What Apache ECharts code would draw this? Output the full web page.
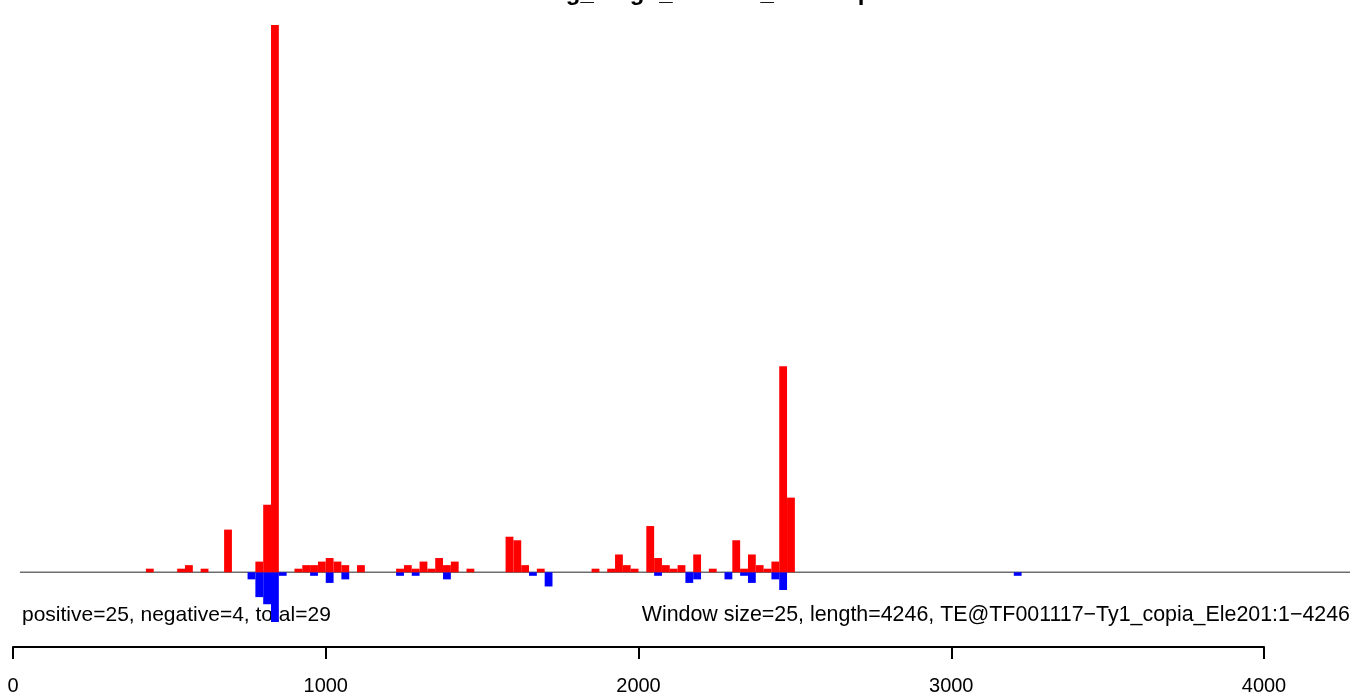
<!DOCTYPE html>
<html>
<head>
<meta charset="utf-8">
<script src="https://cdn.jsdelivr.net/npm/echarts@6/dist/echarts.min.js"></script>
<style>
html,body{margin:0;padding:0;background:#fff;}
#chart{width:1353px;height:697px;}
</style>
</head>
<body>
<div id="chart"></div>
<script>
// ---- data (window start positions in bp, window size 25) ----
const windowSize = 25;
const seqLength = 4246;
const posStarts = [425, 525, 550, 600, 675, 775, 800, 825, 900, 925, 950, 975, 1000, 1025, 1050, 1100,
  1225, 1250, 1275, 1300, 1325, 1350, 1375, 1400, 1450, 1575, 1600, 1625, 1675, 1850, 1900, 1925, 1950, 1975,
  2025, 2050, 2075, 2100, 2125, 2175, 2225, 2300, 2325, 2350, 2375, 2400, 2425, 2450, 2475];
const posCounts = [1, 1, 2, 1, 12, 3, 19, 154, 1, 2, 2, 3, 4, 3, 2, 2,
  1, 2, 1, 3, 1, 4, 2, 3, 1, 10, 9, 2, 1, 1, 1, 5, 2, 1,
  13, 4, 2, 1, 2, 5, 1, 9, 1, 5, 2, 1, 3, 58, 21];
const negStarts = [750, 775, 800, 825, 850, 950, 1000, 1050, 1225, 1275, 1375, 1650, 1700, 2050, 2150, 2175,
  2275, 2325, 2350, 2425, 2450, 3200];
const negCounts = [2, 7, 9, 14, 1, 1, 3, 2, 1, 1, 2, 1, 4, 1, 3, 2,
  2, 1, 3, 2, 5, 1];
const tickValues = [0, 1000, 2000, 3000, 4000];
const titleText = 'sRNAsig_bingo_window_heatmap';
const leftNote = 'positive=25, negative=4, total=29';
const rightNote = 'Window size=25, length=4246, TE@TF001117\u2212Ty1_copia_Ele201:1\u22124246';

const posData = posStarts.map((s, i) => [s, s + windowSize, posCounts[i]]);
const negData = negStarts.map((s, i) => [s, s + windowSize, -negCounts[i]]);

function renderBar(params, api) {
  const p1 = api.coord([api.value(0), api.value(2)]);
  const p2 = api.coord([api.value(1), 0]);
  const x = p1[0], w = p2[0] - p1[0];
  const y = Math.min(p1[1], p2[1]), h = Math.abs(p2[1] - p1[1]);
  return { type: 'rect', shape: { x: x, y: y, width: w, height: h }, style: api.style() };
}

const FONT = '"Liberation Sans", Arial, Helvetica, sans-serif';
const chart = echarts.init(document.getElementById('chart'), null, { renderer: 'canvas' });
chart.setOption({
  animation: false,
  backgroundColor: '#ffffff',
  title: {
    text: titleText,
    left: 'center',
    top: -24,
    textStyle: { fontSize: 24, fontWeight: 'bold', fontFamily: FONT, color: '#000' }
  },
  grid: [
    { left: 13, right: 3, top: 25, bottom: 75 },
    { left: 13, width: 1251, top: 646, height: 1 }
  ],
  xAxis: [
    { type: 'value', gridIndex: 0, min: 0, max: 4275, show: false },
    {
      type: 'value', gridIndex: 1, min: 0, max: 4000, interval: 1000, position: 'bottom',
      axisLine: { show: true, lineStyle: { color: '#000', width: 2 } },
      axisTick: { show: true, length: 12, lineStyle: { color: '#000', width: 2 } },
      axisLabel: {
        margin: 29, fontSize: 20, fontFamily: FONT, color: '#000',
        customValues: tickValues,
        formatter: v => String(v)
      },
      splitLine: { show: false }
    }
  ],
  yAxis: [
    { type: 'value', gridIndex: 0, min: -14, max: 154, show: false },
    { type: 'value', gridIndex: 1, min: 0, max: 1, show: false }
  ],
  series: [
    {
      type: 'line', xAxisIndex: 0, yAxisIndex: 0, data: [[22, 0], [4275, 0]],
      symbol: 'none', lineStyle: { color: '#6e6e6e', width: 1.5 }, z: 1
    },
    {
      type: 'custom', xAxisIndex: 0, yAxisIndex: 0, renderItem: renderBar,
      itemStyle: { color: '#ff0000' }, encode: { x: [0, 1], y: 2 }, data: posData, z: 3
    },
    {
      type: 'custom', xAxisIndex: 0, yAxisIndex: 0, renderItem: renderBar,
      itemStyle: { color: '#0000ff' }, encode: { x: [0, 1], y: 2 }, data: negData, z: 2
    }
  ],
  graphic: [
    {
      type: 'text', left: 22, top: 605,
      style: { text: leftNote, fontSize: 21, fontFamily: FONT, fill: '#000' }
    },
    {
      type: 'text', right: 3, top: 605,
      style: { text: rightNote, fontSize: 21.4, fontFamily: FONT, fill: '#000' }
    }
  ]
});
</script>
</body>
</html>
